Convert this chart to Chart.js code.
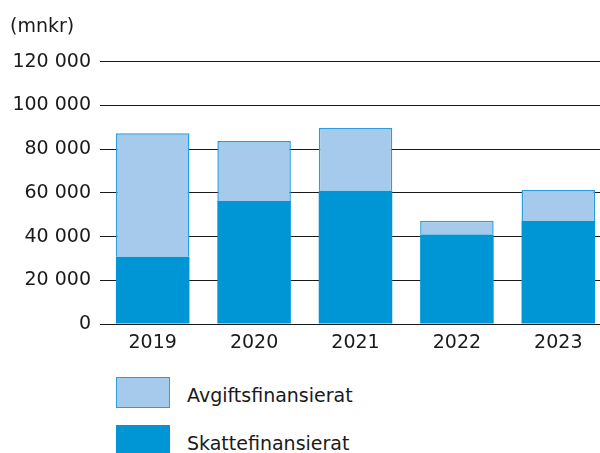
<!DOCTYPE html>
<html>
<head>
<meta charset="utf-8">
<script src="https://cdn.jsdelivr.net/npm/chart.js@4/dist/chart.umd.min.js"></script>
<style>
  html, body { margin: 0; padding: 0; background: #fff; overflow: hidden; }
  #wrap { position: relative; width: 600px; height: 453px; overflow: hidden; }
  #box { position: absolute; left: 0; top: 0; width: 609px; height: 360px; }
  .legend { position: absolute; left: 116px; font-family: "DejaVu Sans", sans-serif; font-size: 19px; color: #1a1a1a; }
  .legend .item { display: flex; align-items: center; height: 31px; margin-bottom: 17px; }
  .legend .item span { position: relative; top: 2px; }
  .legend .sw { width: 52px; height: 29px; margin-right: 17px; box-sizing: content-box; }
</style>
</head>
<body>
<div id="wrap">
  <div id="box"><canvas id="chart"></canvas></div>
  <div class="legend" id="legend" style="top:377px"></div>
</div>
<script>
// data (mnkr)
const years = ["2019", "2020", "2021", "2022", "2023"];
const skattefinansierat = [30800, 56300, 61000, 41000, 47100];
const avgiftsfinansierat = [56500, 27400, 28700, 6300, 14200];
const yTicks = [0, 20000, 40000, 60000, 80000, 100000, 120000];

const darkBlue = "#0095d5";
const lightBlue = "#a6caec";
const edgeBlue = "#2b9fdb";

const fmt = (v) => String(v).replace(/\B(?=(\d{3})+(?!\d))/g, " ");

const datasets = [
  {
    label: "Skattefinansierat",
    data: skattefinansierat,
    backgroundColor: darkBlue,
    borderColor: darkBlue,
    borderWidth: 0,
  },
  {
    label: "Avgiftsfinansierat",
    data: avgiftsfinansierat,
    backgroundColor: lightBlue,
    borderColor: edgeBlue,
    borderWidth: 1.5,
  },
];

new Chart(document.getElementById("chart"), {
  type: "bar",
  data: { labels: years, datasets },
  options: {
    responsive: true,
    maintainAspectRatio: false,
    animation: false,
    layout: { padding: { left: 10, right: 0, top: 0, bottom: 0 } },
    datasets: { bar: { barPercentage: 0.725, categoryPercentage: 1 } },
    plugins: {
      legend: { display: false },
      tooltip: { enabled: false },
      title: {
        display: true,
        text: "(mnkr)",
        align: "start",
        color: "#1a1a1a",
        font: { family: "DejaVu Sans", size: 19, weight: "normal" },
        padding: { top: 16, bottom: 23 },
      },
    },
    scales: {
      x: {
        stacked: true,
        grid: { display: false, drawTicks: false },
        border: { display: false },
        ticks: { color: "#1a1a1a", padding: 8, font: { family: "DejaVu Sans", size: 19 } },
        afterFit: (s) => { s.height = 36; },
      },
      y: {
        stacked: true,
        min: 0,
        max: 120000,
        afterBuildTicks: (s) => { s.ticks = yTicks.map((v) => ({ value: v })); },
        afterFit: (s) => { s.width = 92; },
        grid: { color: "#1a1a1a", lineWidth: 1, drawTicks: true, tickLength: 2 },
        border: { display: false },
        ticks: {
          color: "#1a1a1a",
          padding: 9,
          font: { family: "DejaVu Sans", size: 19 },
          callback: (v) => fmt(v),
        },
      },
    },
  },
});

// legend, top-to-bottom like the original
const legend = document.getElementById("legend");
[datasets[1], datasets[0]].forEach((d) => {
  const item = document.createElement("div");
  item.className = "item";
  const sw = document.createElement("div");
  sw.className = "sw";
  sw.style.background = d.backgroundColor;
  sw.style.border = "1px solid " + d.borderColor;
  const txt = document.createElement("span");
  txt.textContent = d.label;
  item.appendChild(sw);
  item.appendChild(txt);
  legend.appendChild(item);
});
</script>
</body>
</html>
